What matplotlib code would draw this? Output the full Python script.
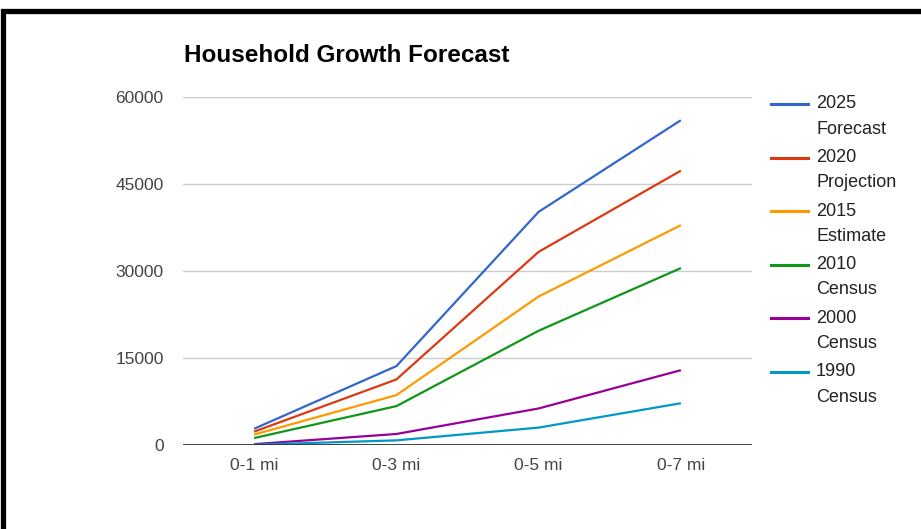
import matplotlib.pyplot as plt
from matplotlib.lines import Line2D
from matplotlib.patches import Rectangle

plt.rcParams['font.family'] = ['Liberation Sans', 'DejaVu Sans']

# Distance bands and household counts per scenario
rings = ['0-1 mi', '0-3 mi', '0-5 mi', '0-7 mi']
forecast_2025 = [2800, 13600, 40200, 56000]
projection_2020 = [2300, 11300, 33300, 47300]
estimate_2015 = [1800, 8600, 25600, 37900]
census_2010 = [1200, 6700, 19700, 30500]
census_2000 = [150, 1900, 6300, 12900]
census_1990 = [50, 800, 3000, 7200]

series = [
    ('2025', 'Forecast', forecast_2025, '#3366CC'),
    ('2020', 'Projection', projection_2020, '#DC3912'),
    ('2015', 'Estimate', estimate_2015, '#FF9900'),
    ('2010', 'Census', census_2010, '#109618'),
    ('2000', 'Census', census_2000, '#990099'),
    ('1990', 'Census', census_1990, '#0099C6'),
]
yticks = [0, 15000, 30000, 45000, 60000]

W, H = 921, 529
fig = plt.figure(figsize=(W / 100, H / 100), dpi=100)
ax = fig.add_axes([183 / W, 1 - 445 / H, (752 - 183) / W, (445 - 97) / H])

x = range(len(rings))
for year, kind, vals, color in series:
    ax.plot(x, vals, color=color, lw=1.6, solid_capstyle='butt', zorder=3)

ax.set_xlim(-0.5, len(rings) - 0.5)
ax.set_ylim(0, 60000)
ax.set_yticks(yticks)
ax.set_yticklabels([str(v) for v in yticks])
ax.set_xticks(list(x))
ax.set_xticklabels(rings)
ax.tick_params(axis='both', length=0, labelsize=12.5, colors='#444444')
ax.tick_params(axis='y', pad=14)
ax.tick_params(axis='x', pad=9)
for s in ax.spines.values():
    s.set_visible(False)
for v in yticks[1:]:
    ax.axhline(v, color='#CCCCCC', lw=1.0, zorder=1)
ax.axhline(0, color='#333333', lw=1.3, zorder=4)

fig.text(184 / W, 1 - 55 / H, 'Household Growth Forecast', fontsize=17.5,
         fontweight='bold', va='center', ha='left', color='#000000')

# legend drawn by hand so the swatch sits beside the first label line
for i, (year, kind, vals, color) in enumerate(series):
    y0 = 104 + i * 53.6
    fig.add_artist(Line2D([771 / W, 808 / W], [1 - y0 / H, 1 - y0 / H],
                          color=color, lw=2.2, transform=fig.transFigure))
    fig.text(816 / W, 1 - y0 / H, year, fontsize=13, color='#222222',
             va='center', ha='left')
    fig.text(816 / W, 1 - (y0 + 25) / H, kind, fontsize=13, color='#222222',
             va='center', ha='left')

# black frame along the top and left edges
fig.add_artist(Rectangle((2.5 / W, -0.1), 1.2, 1 - 10.5 / H + 0.1,
                         transform=fig.transFigure, fill=False,
                         edgecolor='black', lw=3.8, clip_on=False))

fig.savefig('out.png', dpi=100)
